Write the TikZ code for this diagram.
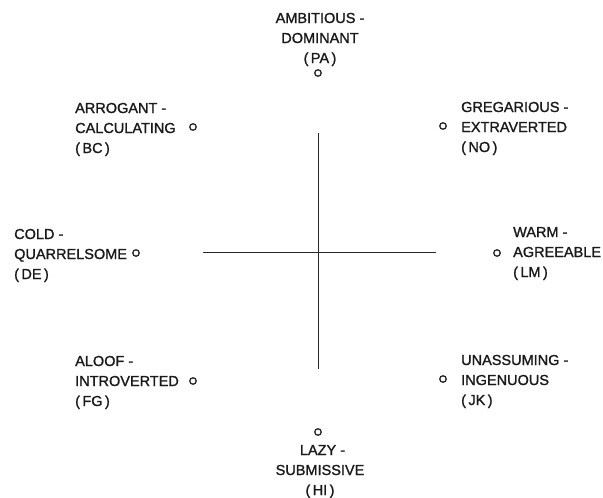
\documentclass[tikz,border=0pt]{standalone}
\usepackage{fontspec}
\setmainfont{Liberation Sans}[FakeBold=1.3]
\begin{document}
\begin{tikzpicture}[x=1pt,y=-1pt,
  lbl/.style={inner sep=0pt, font=\fontsize{14.5}{20}\selectfont, text=black!90},
  lblL/.style={lbl, align=left, anchor=base west},
  lblC/.style={lbl, align=center, anchor=base},
  pt/.style={circle, draw=black!85, line width=1.3pt, minimum size=6.5pt, inner sep=0pt},
  axis/.style={draw=black!85, line width=1.6pt}]
\useasboundingbox (0,0) rectangle (603,498);
% axes
\coordinate (vt) at (318.5,133);
\coordinate (vb) at (318.5,369);
\coordinate (hl) at (203,252.3);
\coordinate (hr) at (436,252.3);
\draw[axis] (vt) -- (vb);
\draw[axis] (hl) -- (hr);
% points
\node[pt] (pa) at (318,73) {};
\node[pt] (bc) at (193,127) {};
\node[pt] (no) at (443,126) {};
\node[pt] (de) at (136,253) {};
\node[pt] (lm) at (497,253) {};
\node[pt] (fg) at (193,381) {};
\node[pt] (jk) at (443,379) {};
\node[pt] (hi) at (318,432) {};
% labels (anchor = baseline of last line)
\node[lblC] (tpa) at (320,63) {AMBITIOUS -\\DOMINANT\\(\,PA\,)};
\node[lblL] (tbc) at (75,153) {ARROGANT -\\CALCULATING\\(\,BC\,)};
\node[lblL] (tno) at (461,152) {GREGARIOUS -\\EXTRAVERTED\\(\,NO\,)};
\node[lblL] (tde) at (14,279) {COLD -\\QUARRELSOME\\(\,DE\,)};
\node[lblL] (tlm) at (513,277) {WARM -\\AGREEABLE\\(\,LM\,)};
\node[lblL] (tfg) at (75,406) {ALOOF -\\INTROVERTED\\(\,FG\,)};
\node[lblL] (tjk) at (461,405) {UNASSUMING -\\INGENUOUS\\(\,JK\,)};
\node[lblC] (thi) at (320,495) {\hspace{5pt}LAZY -\\SUBMISSIVE\\(\,HI\,)};
\end{tikzpicture}
\end{document}
